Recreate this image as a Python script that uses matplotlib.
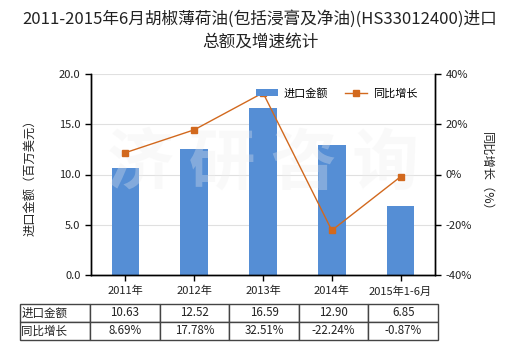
# 2011-2015年6月 胡椒薄荷油 进口总额及增速

import numpy as np
import matplotlib
matplotlib.use("Agg")
import matplotlib.pyplot as plt
from matplotlib.table import Table

plt.rcParams['font.family'] = ['Noto Sans CJK SC', 'DejaVu Sans']
plt.rcParams['axes.unicode_minus'] = False

# Data
categories = ['2011年', '2012年', '2013年', '2014年', '2015年1-6月']
import_value = [10.63, 12.52, 16.59, 12.90, 6.85]
growth_pct = [8.69, 17.78, 32.51, -22.24, -0.87]
value_labels = ['10.63', '12.52', '16.59', '12.90', '6.85']
growth_labels = ['8.69%', '17.78%', '32.51%', '-22.24%', '-0.87%']
row_names = ['进口金额', '同比增长']

bar_color = '#558ED5'
line_color = '#D2691E'
text_color = '#222222'

fig = plt.figure(figsize=(5.2, 3.5), dpi=100)
ax = fig.add_axes([91 / 520, 75 / 350, 344 / 520, 201 / 350])
ax2 = ax.twinx()

x = np.arange(len(categories))

# Bars
bars = ax.bar(x, import_value, width=0.4, color=bar_color, zorder=2, label='进口金额')
ax.set_xlim(-0.5, len(categories) - 0.5)
ax.set_ylim(0, 20)
ax.set_yticks([0, 5, 10, 15, 20])
ax.set_yticklabels(['%.1f' % v for v in [0, 5, 10, 15, 20]])
ax.yaxis.grid(True, color='#e0e0e0', linewidth=0.8, zorder=0)
ax.set_axisbelow(True)
ax.set_xticks(x)
ax.set_xticklabels(categories)

# Growth line
line, = ax2.plot(x, growth_pct, color=line_color, linewidth=1.0, marker='s',
                 markersize=4.5, zorder=5, label='同比增长')
ax2.set_ylim(-40, 40)
ax2.set_yticks([-40, -20, 0, 20, 40])
ax2.set_yticklabels(['%d%%' % v for v in [-40, -20, 0, 20, 40]])

# Watermark
ax2.text(0.5, 0.55, '济 研 咨 询', transform=ax2.transAxes, fontsize=48,
         fontweight='bold', color='#eeeeee', alpha=0.3, ha='center',
         va='center', zorder=3)

for a in (ax, ax2):
    a.spines['top'].set_visible(False)
    for s in ('left', 'right', 'bottom'):
        a.spines[s].set_color('black')
        a.spines[s].set_linewidth(1.0)
    a.tick_params(axis='both', direction='out', length=4, width=1,
                  labelsize=8, colors='black', labelcolor=text_color)
ax.tick_params(axis='x', pad=4)

ax.set_ylabel('进口金额（百万美元）', fontsize=8.8, color=text_color, labelpad=16)
ax2.set_ylabel('同比增长（%）', fontsize=8.8, color=text_color, rotation=270,
               labelpad=15)

# Legend
ax2.legend([bars, line], ['进口金额', '同比增长'], loc='center left',
           bbox_to_anchor=(0.45, 0.905), ncol=2, frameon=False, fontsize=8,
           handlelength=2.0, columnspacing=1.5, handletextpad=0.5)

fig.suptitle('2011-2015年6月胡椒薄荷油(包括浸膏及净油)(HS33012400)进口\n总额及增速统计',
             fontsize=12, y=0.972, color=text_color, linespacing=1.45)

# Data table under the chart
tbl = Table(ax, bbox=[(20 - 91) / 344, (275 - 340) / 201, 418 / 344, 36 / 201])
col_w = [70] + [69.6] * len(categories)
rows = [[row_names[0]] + value_labels, [row_names[1]] + growth_labels]
for r, row in enumerate(rows):
    for c, txt in enumerate(row):
        cell = tbl.add_cell(r, c, width=col_w[c], height=1, text=txt,
                            loc='left' if c == 0 else 'center',
                            edgecolor='#444444', facecolor='white')
        cell.get_text().set_fontsize(8.3)
        cell.get_text().set_color(text_color)
        cell.PAD = 0.02
tbl.auto_set_font_size(False)
tbl.set_clip_on(False)
ax.add_table(tbl)

fig.savefig('out.png', dpi=100)
